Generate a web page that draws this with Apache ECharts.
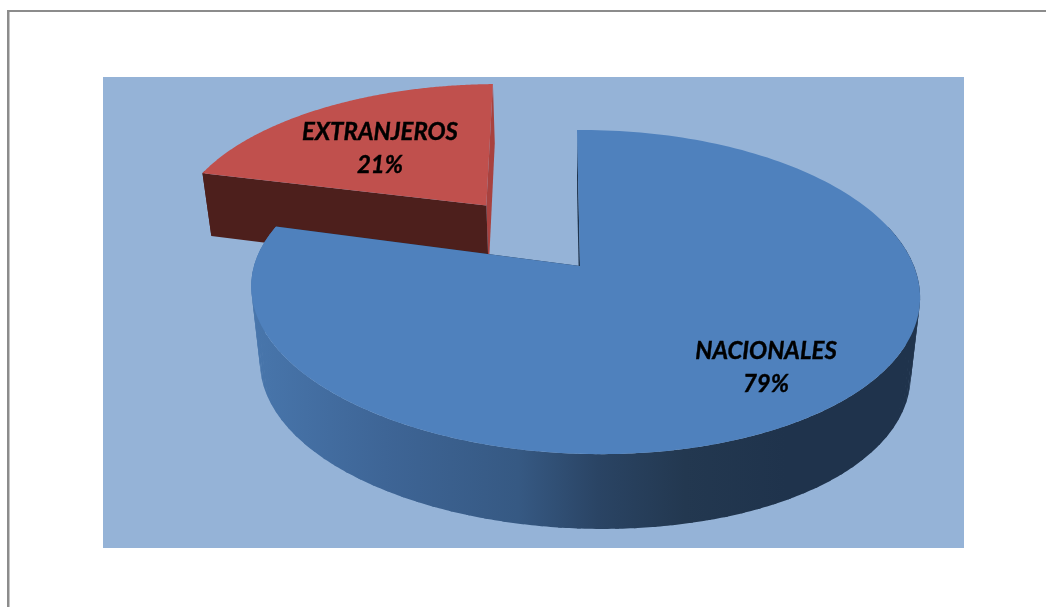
<!DOCTYPE html>
<html>
<head>
<meta charset="utf-8">
<style>html,body{margin:0;padding:0;background:#fff}#c{width:1046px;height:607px}</style>
<script src="https://cdn.jsdelivr.net/npm/echarts@6/dist/echarts.min.js"></script>
</head>
<body>
<div id="c"></div>
<script>
const categories = ['NACIONALES', 'EXTRANJEROS'];
const values = [79, 21];
const exploded = [0, 0.506];

const total = values.reduce((a, b) => a + b, 0);
const P = { x0: 580, y0: 266, R: 330, A: 157.8, k: 0.1605, m: -0.015, H: 69.8, c: 0.027, turn: 0.037 };
const looks = [
  { top: '#4F81BD', startCut: '#1F344D', endCut: '#1F344D', z: 10, label: [766, 368], s: -3.5, radius: 1, bulge: 8, tiltTop: 6, tiltLow: 6 },
  { top: '#C0504D', startCut: '#4D1F1C', endCut: '#A8423F', z: 5, label: [380, 148.5], s: -7, radius: 1.01, bulge: 0, tiltTop: 0, tiltLow: 0 }
];
const wallStops = [
  [0, '#4876AC'], [0.2, '#3E6596'], [0.4, '#365983'], [0.52, '#2A4464'],
  [0.65, '#233850'], [0.8, '#1F334C'], [1, '#1F334C']
];

function project(px, py, low, s) {
  const w = 1 + P.k * py + P.m * px + (low ? P.c : 0);
  return [
    P.x0 + (P.R * px + s * py) / w,
    P.y0 - (P.A * py - (low ? P.H : 0)) / w
  ];
}
function rim(t, o, low, look) {
  const st = Math.sin(t), ct = Math.cos(t);
  const p = project(st * look.radius + o[0], ct * look.radius + o[1], low, look.s);
  p[1] += (low ? look.tiltLow : look.tiltTop) * st * (1 - ct) / 2;
  if (low) p[1] += look.bulge * st * st;
  return p;
}
function sliceRange(i) {
  let before = 0;
  for (let j = 0; j < i; j++) before += values[j];
  return [before / total * 2 * Math.PI, (before + values[i]) / total * 2 * Math.PI];
}
function arc(a, b, o, low, look, n) {
  const pts = [];
  for (let j = 0; j <= n; j++) pts.push(rim(a + (b - a) * j / n, o, low, look));
  return pts;
}

function renderSlice(params, api) {
  const i = params.dataIndex;
  const [a, b] = sliceRange(i);
  const mid = (a + b) / 2 + (exploded[i] ? P.turn : 0);
  const e = exploded[i];
  const o = [Math.sin(mid) * e, Math.cos(mid) * e];
  const look = looks[i];
  const apexTop = project(o[0], o[1], false, look.s);
  const apexLow = project(o[0], o[1], true, look.s);
  const topArc = arc(a, b, o, false, look, 200);
  const lowArc = arc(a, b, o, true, look, 200);
  const poly = (points, fill, z2) => ({
    type: 'polygon', z2, silent: true,
    shape: { points },
    style: { fill }
  });
  const wallFill = i === 0
    ? new echarts.graphic.LinearGradient(251, 0, 919, 0,
        wallStops.map(s => ({ offset: s[0], color: s[1] })), true)
    : look.startCut;
  // The rim wall is built from short overlapping pieces so that the turn at
  // each silhouette cannot cancel the fill.
  const visA = Math.max(a, 1.3);
  const visB = Math.min(b, 2 * Math.PI - 1.3);
  const wall = [];
  for (let t = visA; t < visB; t += 0.05) {
    const end = Math.min(t + 0.06, visB);
    const top = arc(t, end, o, false, look, 6);
    const low = arc(t, end, o, true, look, 6);
    wall.push(poly(top.concat(low.reverse()), wallFill, look.z));
  }
  const pct = Math.round(api.value(1) / total * 100) + '%';
  const font = 'italic bold 24px Lato';
  const label = (text, dy) => ({
    type: 'text', z2: 30, silent: true,
    style: { text, x: look.label[0], y: look.label[1] + dy, align: 'center', verticalAlign: 'middle', font, fill: '#000', stroke: '#000', lineWidth: 0.4 }
  });
  return {
    type: 'group',
    children: wall.concat([
      poly([apexTop, topArc[topArc.length - 1], lowArc[lowArc.length - 1], apexLow], look.endCut, look.z + 1),
      poly([apexTop, topArc[0], lowArc[0], apexLow], look.startCut, look.z + 1),
      poly([apexTop].concat(topArc), look.top, look.z + 2),
      label(categories[i], -16.5),
      label(pct, 16.5)
    ])
  };
}

const chart = echarts.init(document.getElementById('c'), null, { renderer: 'canvas' });
chart.setOption({
  animation: false,
  backgroundColor: '#fff',
  graphic: [
    { type: 'rect', silent: true, shape: { x: 7, y: 10, width: 1039, height: 2 }, style: { fill: '#8C8C8C' } },
    { type: 'rect', silent: true, shape: { x: 7, y: 10, width: 2.5, height: 597 }, style: { fill: '#8C8C8C' } },
    { type: 'rect', silent: true, shape: { x: 103, y: 77, width: 861, height: 471 }, style: { fill: '#95B3D7' } }
  ],
  series: [{
    type: 'custom',
    coordinateSystem: 'none',
    renderItem: renderSlice,
    data: categories.map((c, i) => [i, values[i]])
  }]
});
</script>
</body>
</html>
